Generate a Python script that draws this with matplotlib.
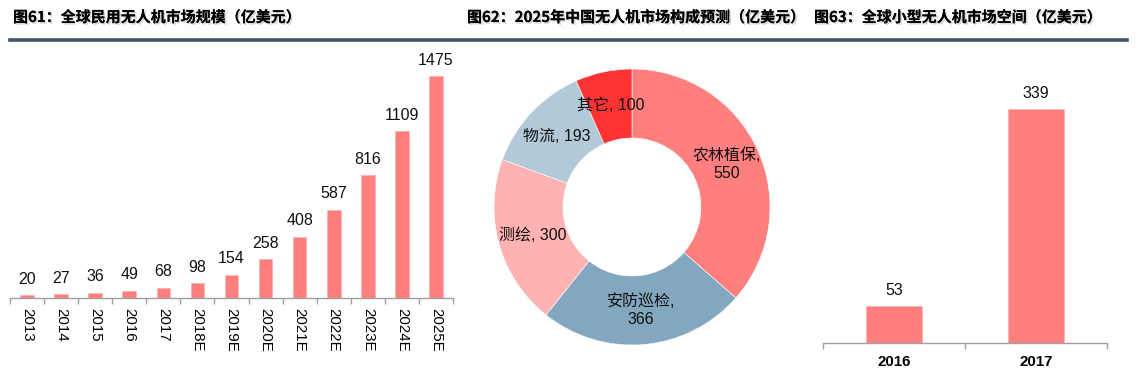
import matplotlib
matplotlib.use("Agg")
import matplotlib.pyplot as plt
from matplotlib.lines import Line2D
import matplotlib.patheffects as pe
import numpy as np

plt.rcParams['font.family'] = ['Liberation Sans', 'Noto Sans CJK SC']

# ---------------- data ----------------
years1 = ['2013', '2014', '2015', '2016', '2017', '2018E', '2019E',
          '2020E', '2021E', '2022E', '2023E', '2024E', '2025E']
vals1 = [20, 27, 36, 49, 68, 98, 154, 258, 408, 587, 816, 1109, 1475]

pie_labels = ['农林植保', '安防巡检', '测绘', '物流', '其它']
pie_vals = [550, 366, 300, 193, 100]
pie_label_text = ['农林植保,\n550', '安防巡检,\n366', '测绘, 300', '物流, 193', '其它, 100']

years3 = ['2016', '2017']
vals3 = [53, 339]

titles = ['图61：全球民用无人机市场规模（亿美元）',
          '图62：2025年中国无人机市场构成预测（亿美元）',
          '图63：全球小型无人机市场空间（亿美元）']

BAR = '#FF7F7F'
PIE_COLORS = ['#FF7F7F', '#82A7BF', '#FFB2B2', '#B2C9D8', '#FF3333']
AXC = '#A0A0A0'

W, H = 1139, 386
fig = plt.figure(figsize=(W / 100, H / 100), dpi=100)


def fx(px):
    return px / W


def fy(py):
    return 1 - py / H


# titles
shadow = [pe.withSimplePatchShadow(offset=(1.2, -1.2), shadow_rgbFace='#888888', alpha=0.35),
          pe.Normal()]
for t, x in zip(titles, [13, 467, 814]):
    fig.text(fx(x), fy(17), t, fontsize=10.8, fontweight='bold',
             family=['Noto Sans CJK SC'], va='center', ha='left', path_effects=shadow)

# header rule
fig.add_artist(Line2D([fx(10), fx(1127)], [fy(40), fy(40)], color='#44546A', lw=2.6,
                      transform=fig.transFigure))


def style_bar_axes(ax, n, pad):
    for s in ['top', 'right', 'left']:
        ax.spines[s].set_visible(False)
    ax.spines['bottom'].set_color(AXC)
    ax.spines['bottom'].set_linewidth(1.0)
    ax.set_yticks([])
    ax.set_xlim(-0.5, n - 0.5)
    ax.set_xticks(np.arange(n))
    ax.tick_params(axis='x', which='major', length=0, pad=pad)
    ax.set_xticks(np.arange(n + 1) - 0.5, minor=True)
    ax.tick_params(axis='x', which='minor', length=4.5, color=AXC, width=1.0)


# ---------- chart 1 ----------
ax1 = fig.add_axes([fx(10), 88 / H, fx(443), 248 / H])
x1 = np.arange(len(years1))
ax1.bar(x1, vals1, width=0.4, color=BAR, edgecolor='#FFB0B0', linewidth=0.5)
ax1.set_ylim(0, 1648)
style_bar_axes(ax1, len(years1), 7)
ax1.set_xticklabels(years1, rotation=-90, fontsize=10.8, va='top', ha='center')
for xi, v in zip(x1, vals1):
    ax1.annotate(str(v), (xi, v), xytext=(0, 6), textcoords='offset points',
                 ha='center', va='bottom', fontsize=11.5, color='#111111')

# ---------- chart 2 (donut) ----------
cx, cy, r = 632, 207, 138
ax2 = fig.add_axes([fx(cx - r), (H - cy - r) / H, fx(2 * r), 2 * r / H])
wedges, texts = ax2.pie(pie_vals, labels=pie_label_text, colors=PIE_COLORS, startangle=90,
                        counterclock=False, labeldistance=0.75,
                        wedgeprops=dict(width=0.5, edgecolor='white', linewidth=0.4),
                        textprops=dict(fontsize=11.5, color='#111111'))
for t in texts:
    t.set_ha('center')
    t.set_va('center')
    t.set_multialignment('center')
ax2.set_xlim(-1.0, 1.0)
ax2.set_ylim(-1.0, 1.0)
ax2.set_aspect('equal')

# ---------- chart 3 ----------
ax3 = fig.add_axes([fx(823), 43 / H, fx(284), 283 / H])
x3 = np.arange(len(years3))
ax3.bar(x3, vals3, width=0.4, color=BAR, edgecolor='#FFB0B0', linewidth=0.5)
ax3.set_ylim(0, 410)
style_bar_axes(ax3, len(years3), 8.5)
ax3.set_xticklabels(years3, fontsize=10.8, fontweight='bold')
for xi, v in zip(x3, vals3):
    ax3.annotate(str(v), (xi, v), xytext=(0, 6), textcoords='offset points',
                 ha='center', va='bottom', fontsize=11.5, color='#111111')

fig.savefig('out.png', dpi=100)
